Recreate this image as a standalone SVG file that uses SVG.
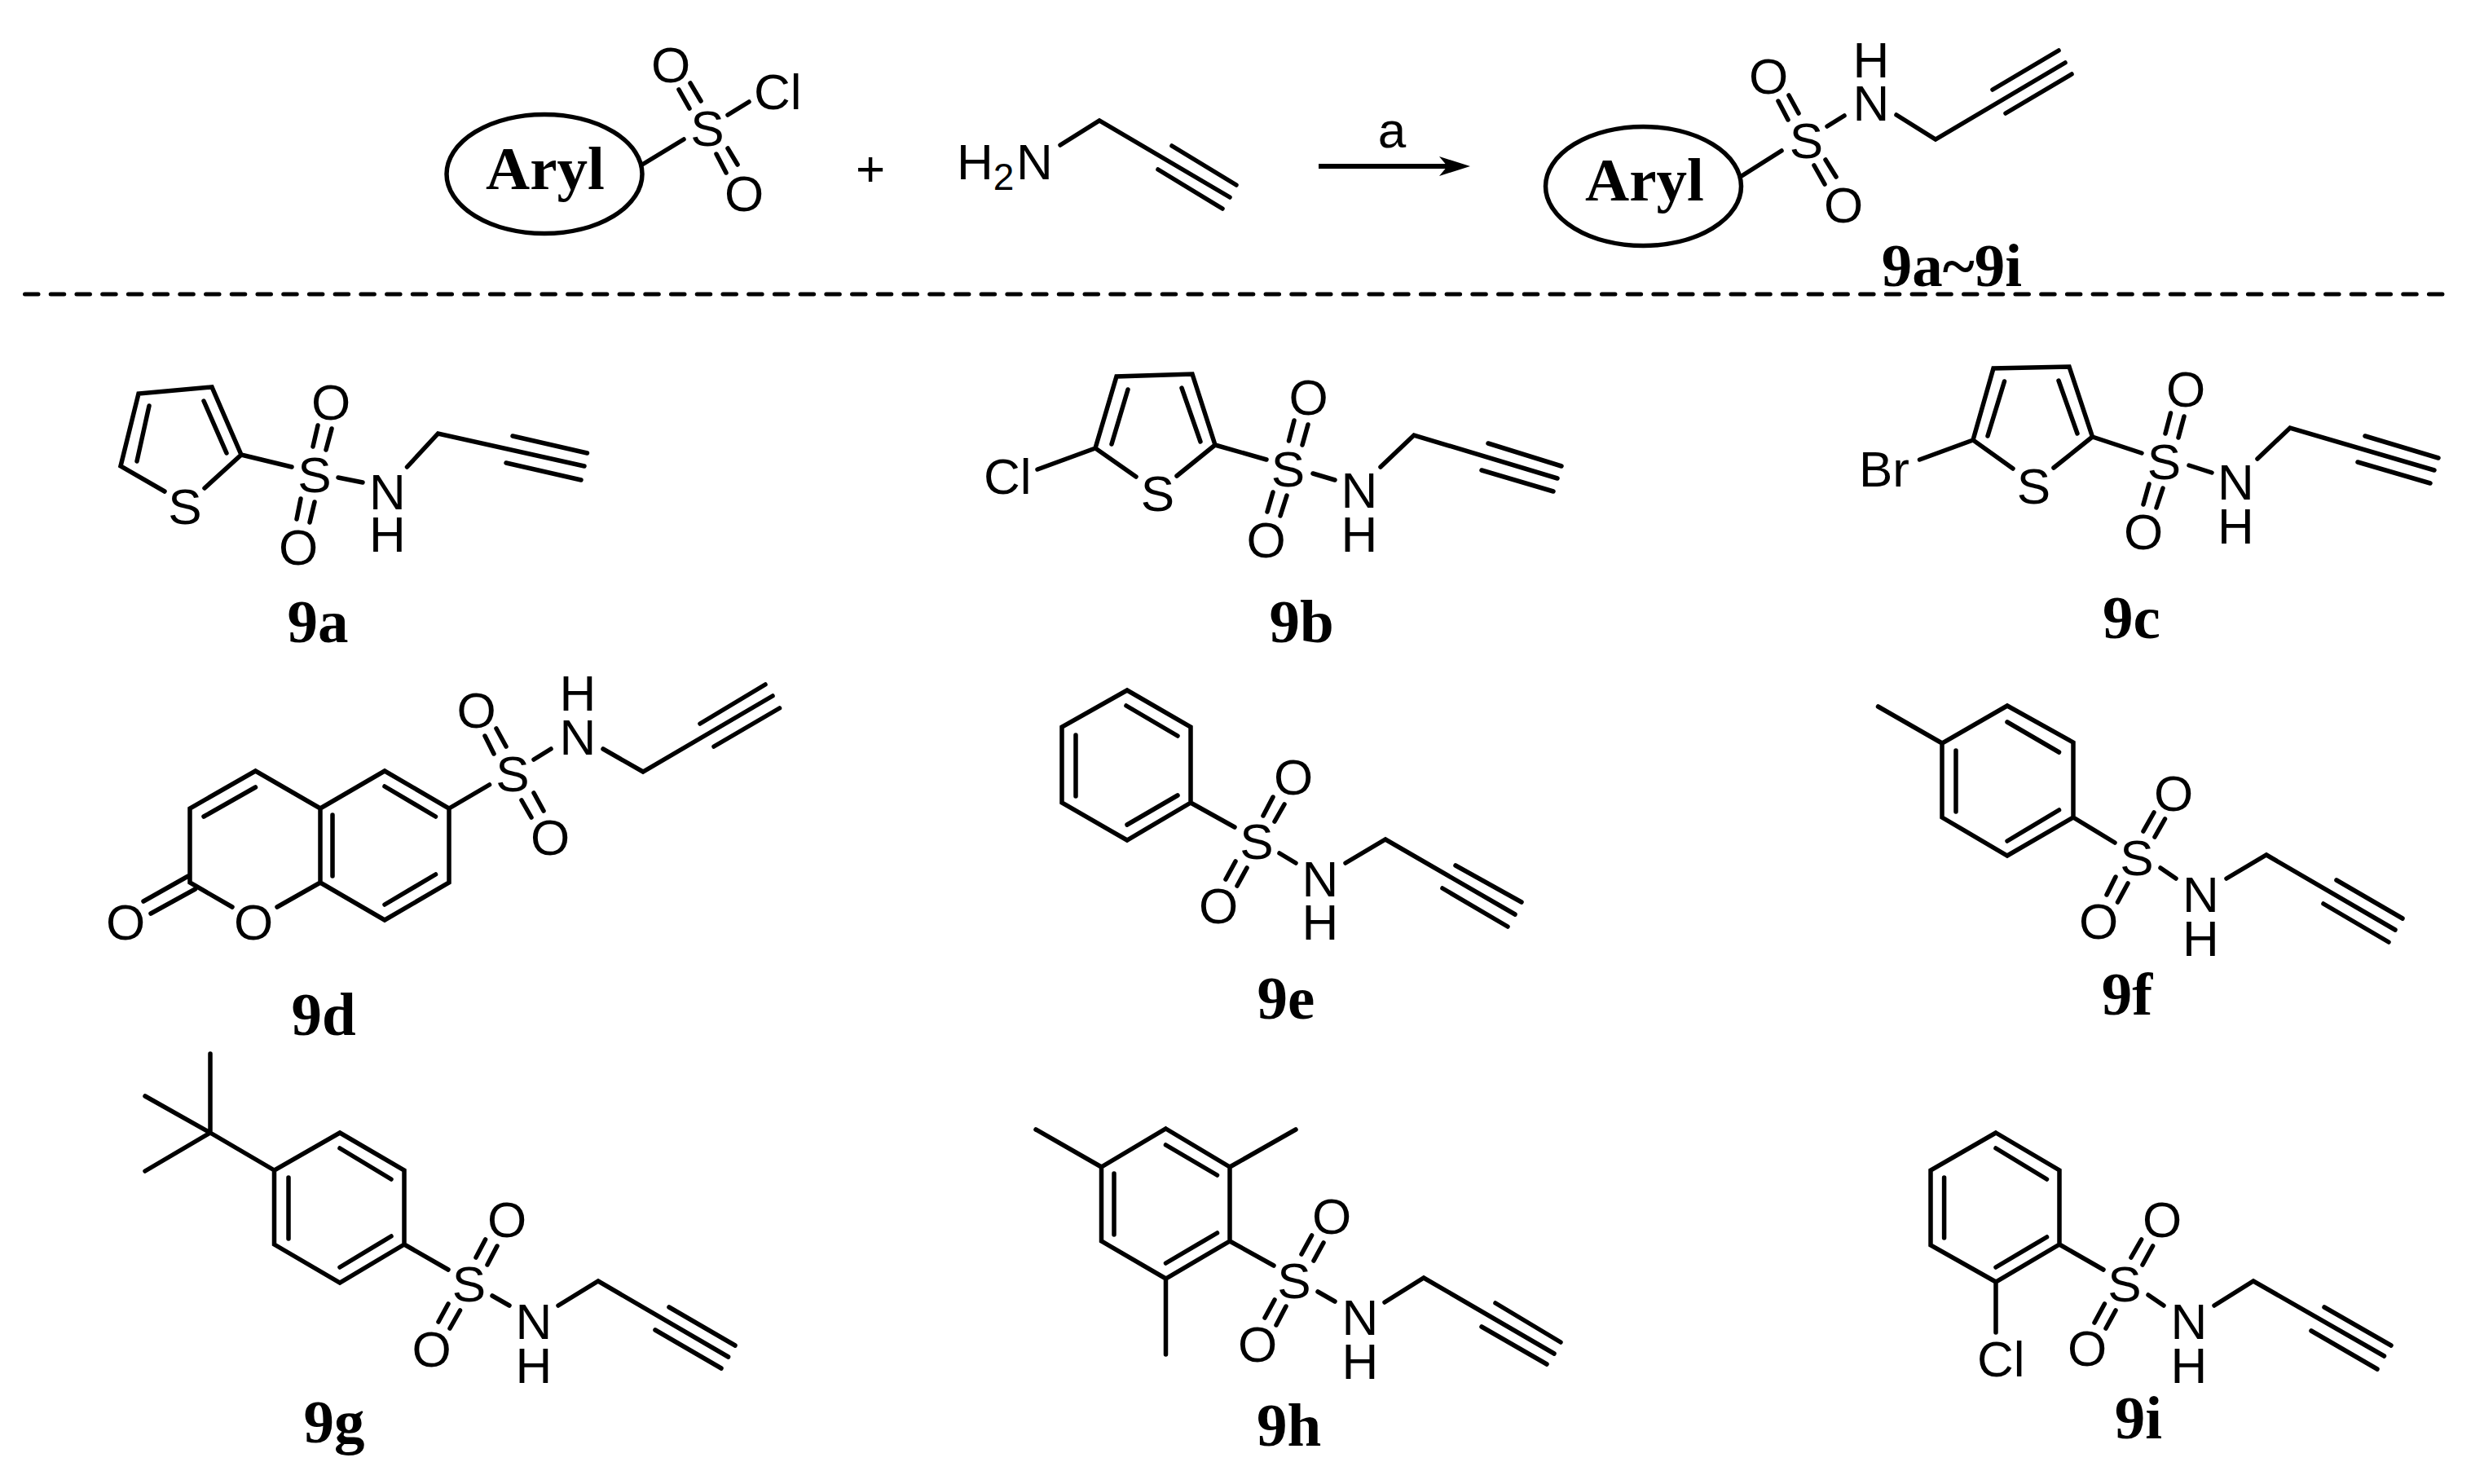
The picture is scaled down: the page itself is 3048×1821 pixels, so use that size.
<svg xmlns="http://www.w3.org/2000/svg" width="3048" height="1821" viewBox="0 0 3048 1821">
<style>
.b{fill:none;stroke:#000;stroke-width:5.5;stroke-linejoin:miter;stroke-linecap:round}
.a{font-family:"Liberation Sans",Arial,sans-serif;font-size:62px;fill:#000;text-anchor:middle}
.s{text-anchor:start}
.l{font-family:"Liberation Serif","Times New Roman",serif;font-weight:bold;font-size:75px;fill:#000;text-anchor:middle}
.e{fill:#fff;stroke:#000;stroke-width:5.5}
</style>
<defs>
<marker id="head" markerUnits="userSpaceOnUse" markerWidth="38" markerHeight="24" viewBox="0 0 38 24" refX="10" refY="12" orient="auto"><path d="M0 0L38 12L0 24L10 12Z" fill="#000"/></marker>
</defs>
<rect width="3048" height="1821" fill="#fff"/>

<g id="connectors">
<line id="reaction-arrow" x1="1618" y1="204" x2="1776" y2="204" stroke="#000" stroke-width="6" marker-end="url(#head)"/>
<line id="separator" x1="30.5" y1="361" x2="3000" y2="361" stroke="#000" stroke-width="5" stroke-linecap="round" stroke-dasharray="16.5 15.22"/>
</g>

<g id="reactant-sulfonyl-chloride">
<ellipse class="e" cx="668" cy="213.5" rx="120" ry="73"/>
<text class="l" x="669" y="232">Aryl</text>
<path class="b" d="M788 202L839 171M833 110L846 133M847 102L860 124M879 189L891 212M893 182L905 202M893 141L919 125"/>
<text class="a" x="868" y="179">S</text>
<text class="a" x="823" y="101">O</text>
<text class="a" x="913" y="259">O</text>
<text class="a s" x="925" y="134">Cl</text>
</g>

<g id="plus"><text class="a" x="1068" y="228">+</text></g>

<g id="reactant-propargylamine">
<text class="a s" x="1174" y="220">H<tspan font-size="46" dy="13">2</tspan><tspan x="1247" dy="-13">N</tspan></text>
<path class="b" d="M1301 178L1349 148L1509 242M1438 179L1517 227M1421 208L1500 256"/>
</g>

<g id="reagent-a"><text class="a" x="1708" y="181">a</text></g>

<g id="product">
<ellipse class="e" cx="2016.5" cy="228.5" rx="120" ry="73"/>
<text class="l" x="2018" y="246">Aryl</text>
<path class="b" d="M2137 216L2186 185M2182 124L2194 147M2195 117L2207 139M2226 203L2239 226M2240 196L2253 217M2242 155L2263 142M2327 141L2375 171L2534 77M2445 110L2526 62M2461 139L2542 91"/>
<text class="a" x="2216.5" y="194">S</text>
<text class="a" x="2170" y="115">O</text>
<text class="a" x="2262" y="273">O</text>
<text class="a" x="2296" y="148">N</text>
<text class="a" x="2296" y="95">H</text>
<text class="l" x="2395" y="350.5">9a~9i</text>
</g>

<g id="compound-9a">
<path class="b" d="M202 603L148 572L170 483L260 475L296 558L251 599M168 566L183 498M278 556L250 492M296 558L358 573M390 522L384 548M407 526L400 552M369 612L364 637M386 616L380 641M415 586L445 592M499.5 573L537.5 532L717 572M629 535L720.5 556M621 568L713 589"/>
<text class="a" x="227" y="643">S</text>
<text class="a" x="386" y="604">S</text>
<text class="a" x="406" y="515">O</text>
<text class="a" x="366" y="693">O</text>
<text class="a" x="475.5" y="625">N</text>
<text class="a" x="475.5" y="677">H</text>
<text class="l" x="390" y="788">9a</text>
</g>

<g id="compound-9b">
<path class="b" d="M1394 585L1344 550L1370 462L1463 459L1491 546L1444 584M1364 545L1384 478M1473 542L1450 476M1344 550L1273 576M1491 546L1554 564M1588 516L1581.5 541M1605 521L1598 546M1562 604L1555 628M1579 608L1571 633M1611 581L1638 589M1694 573L1735 534L1911 587M1826 544L1916 572M1818 577L1906 603"/>
<text class="a s" x="1207" y="606">Cl</text>
<text class="a" x="1420.5" y="627">S</text>
<text class="a" x="1580.5" y="597">S</text>
<text class="a" x="1605.5" y="509">O</text>
<text class="a" x="1553.5" y="684">O</text>
<text class="a" x="1668" y="623">N</text>
<text class="a" x="1668" y="677">H</text>
<text class="l" x="1597" y="788">9b</text>
</g>

<g id="compound-9c">
<path class="b" d="M2470 575L2421 540L2446 452L2539 450L2567.5 536L2520 574M2439 535L2459.5 468M2549 532L2526 467M2421 540L2355.5 564M2567.5 536L2628 556M2663.5 507L2657 532M2680 511L2673 537M2637 594L2630 619M2654 599L2646 623M2686 571L2714 580M2770 563L2810 525L2987 577M2902 535L2992 562M2893 567L2982 593"/>
<text class="a s" x="2281" y="597">Br</text>
<text class="a" x="2495.5" y="618">S</text>
<text class="a" x="2655.5" y="588">S</text>
<text class="a" x="2682" y="499">O</text>
<text class="a" x="2630" y="674">O</text>
<text class="a" x="2743.5" y="613">N</text>
<text class="a" x="2743.5" y="667">H</text>
<text class="l" x="2615.5" y="783">9c</text>
</g>

<g id="compound-9d">
<path class="b" d="M285 1113L233 1083L233 992L313.5 946L393 992L472 946L551 992L551 1083L472 1129L393 1083L340 1113M393 992L393 1083M176 1106L231 1075M185 1121L239.5 1091M250 1002L313.5 966M408 1000L408 1075M472 965L534.5 1002M534.5 1073L472 1110M551 992L600.5 963M595 903L606 925M609 894L621 916M640 982L652 1003M655 973L667 995M655 932L676 919M740 919L789 947L948 854M859 888L939 840M876 916L956.5 869"/>
<text class="a" x="311" y="1153">O</text>
<text class="a" x="154" y="1153">O</text>
<text class="a" x="629" y="971">S</text>
<text class="a" x="584.5" y="893">O</text>
<text class="a" x="675" y="1049">O</text>
<text class="a" x="709" y="926">N</text>
<text class="a" x="709" y="872">H</text>
<text class="l" x="397" y="1270">9d</text>
</g>

<g id="compound-9e">
<path class="b" d="M1383 847L1461 892L1461 985L1383 1031L1303 985L1303 892ZM1382 866L1445 903M1445 976L1383 1012M1320 902L1320 977M1461 985L1515 1015M1562 978L1550 1001M1576 987L1564 1008M1516 1057L1504 1079M1530 1065L1518 1087M1570 1047L1590 1059M1651 1059L1700 1030L1859 1122M1786 1062L1867 1107M1770 1090L1850 1137"/>
<text class="a" x="1542" y="1054">S</text>
<text class="a" x="1587" y="975">O</text>
<text class="a" x="1495" y="1133">O</text>
<text class="a" x="1620" y="1100">N</text>
<text class="a" x="1620" y="1153">H</text>
<text class="l" x="1578" y="1250">9e</text>
</g>

<g id="compound-9f">
<path class="b" d="M2463 866L2544 911L2544 1003L2463 1050L2383 1003L2383 912ZM2383 912L2304.5 867M2463 886L2526.5 923M2526.5 994L2463 1032M2400 921L2400 996M2544 1003L2595 1034M2643 997L2630 1020M2656.5 1005L2644 1027M2596 1076L2585 1098M2611 1084L2598.5 1107M2651 1065L2670 1078M2732 1078L2781 1049L2939 1141M2867 1080L2948 1127M2851 1109L2931 1156"/>
<text class="a" x="2622" y="1074">S</text>
<text class="a" x="2667" y="995">O</text>
<text class="a" x="2575" y="1152">O</text>
<text class="a" x="2700.5" y="1119">N</text>
<text class="a" x="2700.5" y="1173">H</text>
<text class="l" x="2610" y="1245">9f</text>
</g>

<g id="compound-9g">
<path class="b" d="M417 1390L496 1436L496 1527L417 1574L336.5 1527L336.5 1436ZM336.5 1436L258 1390L178 1345M258 1390L258 1293M258 1390L178 1437M417 1409L480 1447M480 1517L417 1555M354 1445L354 1520M496 1527L550 1558M595.6 1521L584 1543M610 1529L598 1552M550 1600L538 1622M564.5 1608L552 1630M604 1590L625 1602M685 1602L734 1572L893.6 1665M821 1604L902 1651M804 1632L885 1679"/>
<text class="a" x="575.5" y="1597">S</text>
<text class="a" x="622" y="1518">O</text>
<text class="a" x="529.5" y="1677">O</text>
<text class="a" x="655" y="1643">N</text>
<text class="a" x="655" y="1697">H</text>
<text class="l" x="410" y="1770">9g</text>
</g>

<g id="compound-9h">
<path class="b" d="M1430.5 1385L1509 1432L1509 1523L1430.5 1569L1351.5 1523L1351.5 1432ZM1351.5 1432L1271 1386M1509 1432L1590 1386M1430.5 1569L1430.5 1662M1430.5 1405L1493.5 1442M1493.5 1513L1430.5 1550M1367 1440L1367 1515M1509 1523L1563 1553M1609.6 1516L1597 1539M1624 1525L1612 1547M1564 1595L1552 1617M1578 1603L1566 1626M1617 1585L1638 1597M1699 1598L1747 1568L1907 1661M1835 1599L1915 1647M1818 1628L1898 1674"/>
<text class="a" x="1588" y="1593">S</text>
<text class="a" x="1634" y="1514">O</text>
<text class="a" x="1543" y="1671">O</text>
<text class="a" x="1669" y="1638">N</text>
<text class="a" x="1669" y="1692">H</text>
<text class="l" x="1581.5" y="1774">9h</text>
</g>

<g id="compound-9i">
<path class="b" d="M2449 1390L2527 1436L2527 1527L2449 1573L2369 1528L2369 1436ZM2449 1409L2511.5 1447M2511.5 1518L2449 1555M2385.6 1445L2385.6 1519M2449 1573L2449 1635M2527 1527L2581 1558M2627.6 1521L2615 1543M2641.6 1529L2629 1552M2582.4 1600L2570 1623M2596 1608L2584 1630M2636 1589L2655 1602M2717 1602L2765 1572L2925.5 1664M2852 1604L2934 1651M2836 1633L2917 1680"/>
<text class="a s" x="2426" y="1689">Cl</text>
<text class="a" x="2607" y="1597">S</text>
<text class="a" x="2653" y="1518">O</text>
<text class="a" x="2561" y="1676">O</text>
<text class="a" x="2686" y="1643">N</text>
<text class="a" x="2686" y="1697">H</text>
<text class="l" x="2624" y="1765">9i</text>
</g>
</svg>
